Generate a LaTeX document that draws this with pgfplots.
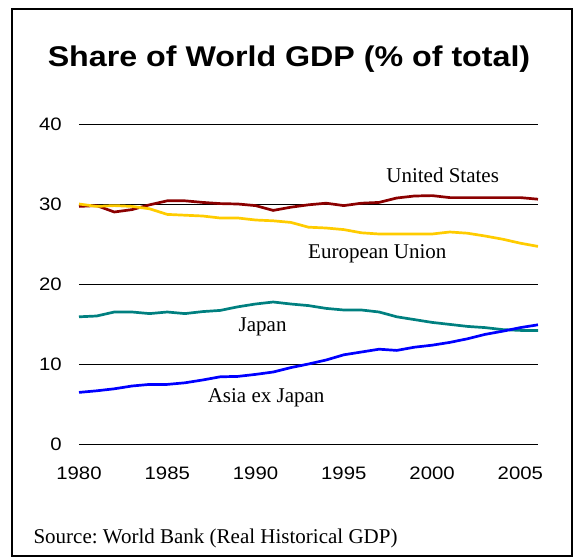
\documentclass[border=0pt]{standalone}
\usepackage{pgfplots}
\pgfplotsset{compat=1.18}
\usepackage{fontspec}
\setmainfont{Liberation Serif}
\newfontfamily\arial[FakeStretch=1.13]{Liberation Sans}
\definecolor{usred}{HTML}{8B0000}
\definecolor{eugold}{HTML}{FFCC00}
\definecolor{jpteal}{HTML}{008080}
\definecolor{asblue}{HTML}{0000FF}
\frenchspacing
\begin{document}
\begin{tikzpicture}[x=1pt,y=1pt]
\path[use as bounding box,fill=white] (0,0) rectangle (574,558);
\draw[line width=1.3pt] (12,2) rectangle (572,549);
\node[font=\arial\bfseries\fontsize{28.5}{32}\selectfont] at (289,499) {Share of World GDP (\% of total)};
\node[anchor=west,font=\fontsize{21}{24}\selectfont] at (30,20) {Source: World Bank (Real Historical GDP)};
\begin{axis}[
  at={(79pt,114pt)}, anchor=south west,
  scale only axis, width=459pt, height=320pt,
  xmin=1980, xmax=2006, ymin=0, ymax=40,
  axis line style={draw=none},
  major tick length=0pt,
  xtick={1980,1985,1990,1995,2000,2005},
  ytick={0,10,20,30,40},
  ymajorgrids, grid style={black, line width=0.8pt},
  /pgf/number format/1000 sep={},
  /pgf/number format/assume math mode=true,
  ticklabel style={font=\arial\fontsize{18}{21}\selectfont},
  yticklabel style={anchor=east, inner sep=0pt, xshift=-17pt},
  xticklabel style={anchor=north, inner sep=0pt, yshift=-22.5pt},
  clip=false,
]
\addplot[usred, line width=2.7pt] coordinates {
(1980,29.7)(1981,29.8)(1982,29.0)(1983,29.3)(1984,29.9)(1985,30.4)(1986,30.4)(1987,30.2)(1988,30.05)(1989,30.0)(1990,29.8)(1991,29.2)(1992,29.6)(1993,29.9)(1994,30.1)(1995,29.8)(1996,30.1)(1997,30.2)(1998,30.75)(1999,31.0)(2000,31.05)(2001,30.8)(2002,30.8)(2003,30.8)(2004,30.8)(2005,30.8)(2006,30.6)};
\addplot[eugold, line width=2.7pt] coordinates {
(1980,30.0)(1981,29.7)(1982,29.8)(1983,29.7)(1984,29.4)(1985,28.7)(1986,28.6)(1987,28.5)(1988,28.25)(1989,28.25)(1990,28.0)(1991,27.9)(1992,27.7)(1993,27.1)(1994,27.0)(1995,26.8)(1996,26.4)(1997,26.25)(1998,26.25)(1999,26.25)(2000,26.25)(2001,26.5)(2002,26.35)(2003,26.0)(2004,25.6)(2005,25.1)(2006,24.7)};
\addplot[jpteal, line width=2.7pt] coordinates {
(1980,15.9)(1981,16.0)(1982,16.5)(1983,16.5)(1984,16.3)(1985,16.5)(1986,16.3)(1987,16.55)(1988,16.7)(1989,17.15)(1990,17.5)(1991,17.75)(1992,17.5)(1993,17.3)(1994,16.95)(1995,16.75)(1996,16.75)(1997,16.5)(1998,15.9)(1999,15.55)(2000,15.2)(2001,14.95)(2002,14.7)(2003,14.55)(2004,14.3)(2005,14.2)(2006,14.2)};
\addplot[asblue, line width=2.7pt] coordinates {
(1980,6.45)(1981,6.65)(1982,6.9)(1983,7.25)(1984,7.45)(1985,7.45)(1986,7.65)(1987,8.0)(1988,8.4)(1989,8.45)(1990,8.7)(1991,9.0)(1992,9.55)(1993,10.0)(1994,10.5)(1995,11.15)(1996,11.5)(1997,11.85)(1998,11.7)(1999,12.1)(2000,12.35)(2001,12.7)(2002,13.15)(2003,13.7)(2004,14.1)(2005,14.55)(2006,14.9)};
\node[font=\fontsize{21}{24}\selectfont] at (axis cs:2000.6,33.6) {United States};
\node[font=\fontsize{21}{24}\selectfont] at (axis cs:1996.9,23.75) {European Union};
\node[font=\fontsize{21}{24}\selectfont] at (axis cs:1990.4,14.6) {Japan};
\node[font=\fontsize{21}{24}\selectfont] at (axis cs:1990.6,5.75) {Asia ex Japan};
\end{axis}
\end{tikzpicture}
\end{document}
